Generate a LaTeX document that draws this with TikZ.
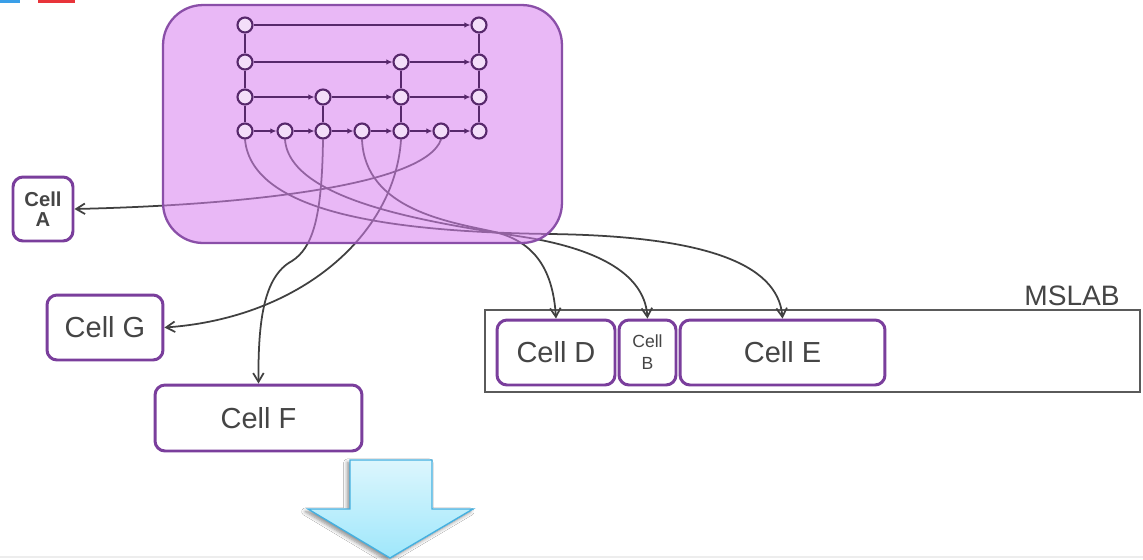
\documentclass[tikz,border=0pt]{standalone}
\usepackage{fontspec}
\setmainfont{Liberation Sans}
\usetikzlibrary{arrows.meta,shadows.blur}

\definecolor{cellline}{HTML}{7A3E9C}
\definecolor{boxfill}{RGB}{215,126,240}
\definecolor{boxline}{HTML}{8A4FA8}
\definecolor{gridline}{HTML}{57286B}
\definecolor{gridfill}{HTML}{F3DEF9}
\definecolor{wire}{HTML}{404040}
\definecolor{txt}{HTML}{454545}
\definecolor{slabline}{HTML}{5A5A5A}
\definecolor{arrtop}{HTML}{DCF6FD}
\definecolor{arrbot}{HTML}{9FE7FB}
\definecolor{arrline}{HTML}{45B0E0}
\definecolor{tabblue}{HTML}{3A9FE8}
\definecolor{tabred}{HTML}{E8343A}

% places every stage of the grid with the given node style
\newcommand\placestages[1]{%
  \node[#1] (d11) at (245,25) {};
  \node[#1] (d17) at (479,25) {};
  \node[#1] (d21) at (245,62) {};
  \node[#1] (d25) at (401,62) {};
  \node[#1] (d27) at (479,62) {};
  \node[#1] (d31) at (245,97) {};
  \node[#1] (d33) at (323,97) {};
  \node[#1] (d35) at (401,97) {};
  \node[#1] (d37) at (479,97) {};
  \foreach \c/\x in {1/245,2/285,3/323,4/362,5/401,6/441,7/479}
    \node[#1] (d4\c) at (\x,131) {};
}

\begin{document}
\begin{tikzpicture}[x=0.02cm,y=-0.02cm,
  cell/.style={draw=cellline,line width=1.7pt,rounded corners=0.2cm,fill=white,
    text=txt,font=\fontsize{16.5}{18}\selectfont,inner sep=0pt},
  dotshape/.style={circle,minimum size=0.3cm,inner sep=0pt,line width=1.2pt},
  dot/.style={dotshape,draw=gridline,fill=gridfill},
  flow/.style={draw=gridline,line width=1.2pt,-{Latex[length=3.5pt,width=3.2pt]}},
  rung/.style={draw=gridline,line width=1.2pt},
  link/.style={draw=wire,line width=1pt,-{Straight Barb[length=5pt,width=6pt]}}
]
\useasboundingbox (0,0) rectangle (1143,559);
\fill[white] (0,0) rectangle (1143,559);

% small tabs along the top edge
\fill[tabblue] (0,0) rectangle (20,3);
\fill[tabred] (38,0) rectangle (75,3);

% faint rule along the bottom
\draw[draw=black!7,line width=0.6pt] (0,557) -- (1143,557);

% stage positions (outlines are drawn later, above the panel)
\placestages{dotshape}

% ---- MSLAB strip ----
\node[draw=slabline,line width=0.9pt,minimum width=13.1cm,minimum height=1.64cm,
  inner sep=0pt] (mslab) at (812.5,351) {};
\node[text=txt,font=\fontsize{16}{18}\selectfont] (mslabel) at (1072,296) {MSLAB};

% ---- cells ----
\node[cell,align=center,font=\fontsize{11.5}{11.5}\selectfont\bfseries,
  minimum width=1.2cm,minimum height=1.28cm] (ca) at (43,209) {Cell\\A};
\node[cell,minimum width=2.32cm,minimum height=1.3cm] (cg) at (105,327.5) {Cell G};
\node[cell,minimum width=4.14cm,minimum height=1.32cm] (cf) at (258.5,418) {Cell F};
\node[cell,minimum width=2.36cm,minimum height=1.3cm] (cd) at (556,352.5) {Cell D};
\node[cell,align=center,font=\fontsize{10}{12.5}\selectfont,
  minimum width=1.14cm,minimum height=1.3cm] (cb) at (647.5,352.5) {Cell\\B};
\node[cell,minimum width=4.1cm,minimum height=1.3cm] (ce) at (782.5,352.5) {Cell E};

% ---- connectors from the last row to the cells ----
\draw[link] (d46.south) .. controls (425,185) and (250,205) .. (ca.east);
\draw[link] (d45.south) .. controls (395,235) and (300,318) .. (cg.east);
\draw[link] (d43.south) .. controls (322,220) and (312,248) .. (292,261)
  .. controls (264,276) and (258,320) .. (cf.north);
\draw[link] (d44.south) .. controls (365,210) and (450,222) .. (495,232)
  .. controls (535,242) and (553,270) .. (cd.north);
\draw[link] (d42.south) .. controls (290,205) and (450,225) .. (530,238)
  .. controls (610,252) and (645,280) .. (cb.north);
\draw[link] (d41.south) .. controls (252,215) and (400,232) .. (550,234)
  .. controls (700,236) and (778,262) .. (ce.north);

% ---- translucent panel over the connectors ----
\node[draw=boxline,line width=1.3pt,fill=boxfill,fill opacity=0.55,
  rounded corners=0.8cm,minimum width=7.98cm,minimum height=4.76cm,
  inner sep=0pt] (core) at (362.5,124) {};

% ---- grid of stages ----
\placestages{dot}

\draw[flow] (d11) -- (d17);
\draw[flow] (d21) -- (d25);
\draw[flow] (d25) -- (d27);
\draw[flow] (d31) -- (d33);
\draw[flow] (d33) -- (d35);
\draw[flow] (d35) -- (d37);
\foreach \a/\b in {1/2,2/3,3/4,4/5,5/6,6/7}
  \draw[flow] (d4\a) -- (d4\b);

\draw[rung] (d11) -- (d21);
\draw[rung] (d21) -- (d31);
\draw[rung] (d31) -- (d41);
\draw[rung] (d17) -- (d27);
\draw[rung] (d27) -- (d37);
\draw[rung] (d37) -- (d47);
\draw[rung] (d25) -- (d35);
\draw[rung] (d35) -- (d45);
\draw[rung] (d33) -- (d43);

% ---- big down arrow ----
\draw[arrline,line width=0.8pt,top color=arrtop,bottom color=arrbot,
  blur shadow={shadow xshift=-1.5pt,shadow yshift=-1.5pt,shadow blur steps=6,
    shadow opacity=45}]
  (350,460) -- (432,460) -- (432,509) -- (473,509) -- (390,558)
  -- (308,509) -- (350,509) -- cycle;
\end{tikzpicture}
\end{document}
